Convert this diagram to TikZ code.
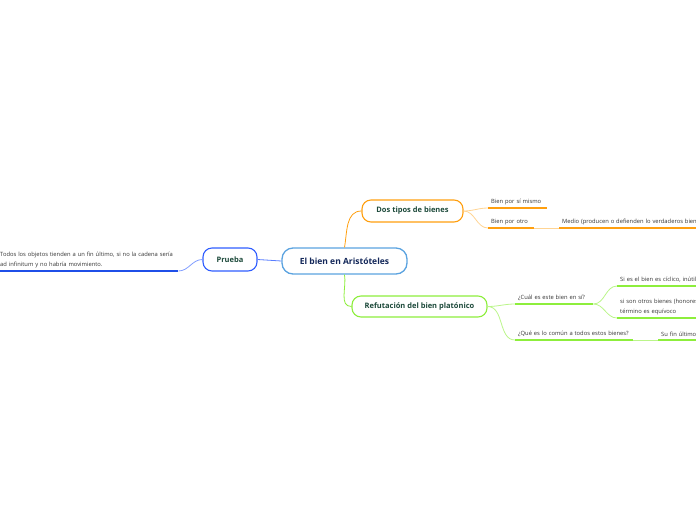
\documentclass[tikz,border=0pt]{standalone}
\usepackage{fontspec}
\setmainfont{Open Sans}
\definecolor{azulcentro}{HTML}{5BA3E0}
\definecolor{azulprueba}{HTML}{2F5DFF}
\definecolor{azulraya}{HTML}{1F4FE8}
\definecolor{naranja}{HTML}{FF9F0F}
\definecolor{verde}{HTML}{8DEE3C}
\definecolor{textonavy}{HTML}{14285A}
\definecolor{textoverde}{HTML}{1D4A3B}
\definecolor{textogris}{HTML}{333333}
\tikzset{
  tema/.style={draw, rounded corners=9pt, fill=white, line width=1.1pt,
    font=\fontsize{7.5}{9}\selectfont\bfseries, text=textoverde},
  hoja/.style={anchor=south west, inner xsep=3pt, inner ysep=3.3pt, align=left,
    font=\fontsize{5.8}{10}\selectfont, text=textogris},
  rama/.style={line width=0.8pt},
  raya/.style={line width=1.7pt},
}
\begin{document}
\begin{tikzpicture}[x=1pt,y=1pt]
        \clip (0,0) rectangle (696,-520);
        % nodo central y temas
        \node[tema, draw=azulcentro, line width=1.3pt, text=textonavy, minimum width=125pt, minimum height=26pt, rounded corners=11pt, font=\fontsize{8.5}{10}\selectfont\bfseries] (centro) at (344.5,-261) {El bien en Aristóteles};
        \node[tema, draw=naranja, minimum width=101pt, minimum height=22pt] (dos) at (412.5,-211) {Dos tipos de bienes};
        \node[tema, draw=verde, minimum width=135pt, minimum height=21pt] (refut) at (419.5,-306.5) {Refutación del bien platónico};
        \node[tema, draw=azulprueba, minimum width=54pt, minimum height=23pt] (prueba) at (230,-259.5) {Prueba};
        % hojas
        \node[hoja, text width=53pt] (bps) at (488,-208) {Bien por sí mismo};
        \node[hoja, text width=40pt] (bpo) at (488,-228) {Bien por otro};
        \node[hoja, text width=170pt] (medio) at (559,-228) {Medio (producen o defienden lo verdaderos bienes)};
        \node[hoja, text width=72pt] (cual) at (515,-304) {¿Cuál es este bien en sí?};
        \node[hoja, text width=140pt] (ciclico) at (617,-286) {Si es el bien es cíclico, inútil};
        \node[hoja, text width=140pt] (otros) at (617,-318) {si son otros bienes (honores\\término es equívoco};
        \node[hoja, text width=112pt] (que) at (515,-340) {¿Qué es lo común a todos estos bienes?};
        \node[hoja, text width=60pt] (fin) at (658,-340) {Su fin último};
        \node[hoja, text width=175pt] (todos) at (-3,-271) {Todos los objetos tienden a un fin último, si no la cadena sería\\ad infinitum y no habría movimiento.};
        % ramas
        \draw[rama, naranja] (centro.north) to[out=80,in=180] (dos.west);
        \draw[rama, verde] (centro.south) to[out=-80,in=180] (refut.west);
        \draw[rama, azulprueba!80] (centro.west) -- (prueba.east);
        \draw[rama, azulprueba!60] (prueba.west) to[out=180,in=0] (todos.south east);
        \draw[rama, naranja!45] (dos.east) to[out=0,in=180] (bps.south west);
        \draw[rama, naranja!45] (dos.east) to[out=0,in=180] (bpo.south west);
        \draw[rama, naranja!45] (bpo.south east) -- (medio.south west);
        \draw[rama, verde!60] (refut.east) to[out=0,in=180] (cual.south west);
        \draw[rama, verde!60] (refut.east) to[out=0,in=180] (que.south west);
        \draw[rama, verde!60] (cual.south east) to[out=0,in=180] (ciclico.south west);
        \draw[rama, verde!60] (cual.south east) to[out=0,in=180] (otros.south west);
        \draw[rama, verde!60] (que.south east) -- (fin.south west);
        % subrayados
        \foreach \h/\c in {bps/naranja, bpo/naranja, medio/naranja, cual/verde, ciclico/verde, otros/verde, que/verde, fin/verde, todos/azulraya}
            \draw[raya, \c] (\h.south west) -- (\h.south east);
    \end{tikzpicture}
\end{document}
